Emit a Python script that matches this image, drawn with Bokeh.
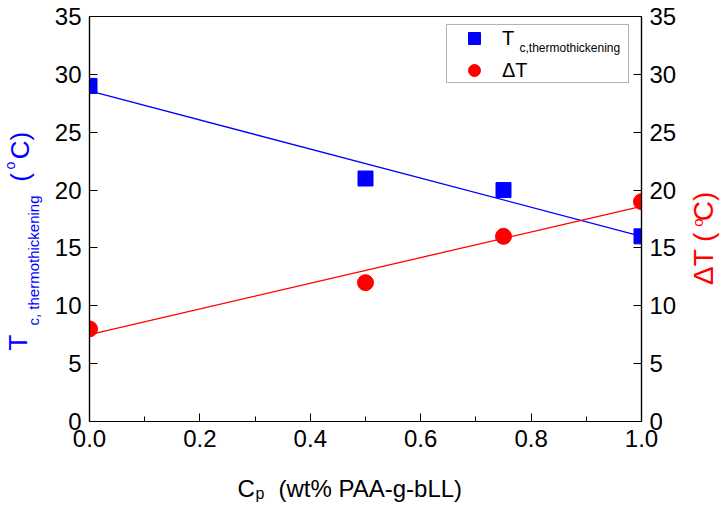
import numpy as np
from bokeh.plotting import figure
from bokeh.layouts import row, column
from bokeh.models import (LinearAxis, Range1d, Label, Legend, LegendItem,
                          FixedTicker, NumeralTickFormatter, BoxAnnotation)
from bokeh.embed import file_html
from bokeh.resources import INLINE

# data
cp = [0.0, 0.5, 0.75, 1.0]
tc_thick = [29, 21, 20, 16]
delta_t = [8, 12, 16, 19]

x_ticks = [0.0, 0.2, 0.4, 0.6, 0.8, 1.0]
x_minor = [0.1, 0.3, 0.5, 0.7, 0.9]
y_ticks = [0, 5, 10, 15, 20, 25, 30, 35]

BLUE = "#0000ff"
RED = "#ff0000"
FONT = "Liberation Sans"

# page layout (pixels): left title strip, main plot, right title strip, bottom strip
LW, RW = 48, 40
MW = 724 - LW - RW
TOP_H, BOT_H = 460, 53
FL, FR, FT, FB = 89, 641, 16, 421   # frame box on the page
XMAX, YMAX = 1.0, 35.0

p = figure(width=MW, height=TOP_H, x_range=Range1d(0, XMAX), y_range=Range1d(0, YMAX),
           output_backend="svg", toolbar_location=None,
           min_border_left=FL - LW, min_border_right=LW + MW - FR,
           min_border_top=FT, min_border_bottom=TOP_H - FB)
p.grid.grid_line_color = None
p.outline_line_color = "black"
p.outline_line_width = 1.2

p.xaxis.ticker = FixedTicker(ticks=x_ticks, minor_ticks=x_minor)
p.xaxis.formatter = NumeralTickFormatter(format="0.0")
p.yaxis.ticker = FixedTicker(ticks=y_ticks, minor_ticks=[])

right = LinearAxis(ticker=FixedTicker(ticks=y_ticks, minor_ticks=[]))
p.add_layout(right, "right")

for ax in p.axis:
    ax.axis_line_color = "black"
    ax.axis_line_width = 1.2
    ax.major_tick_in = 8
    ax.major_tick_out = 0
    ax.minor_tick_in = 5
    ax.minor_tick_out = 0
    ax.major_tick_line_color = "black"
    ax.minor_tick_line_color = "black"
    ax.major_label_text_font = FONT
    ax.major_label_text_font_size = "24px"
    ax.major_label_text_color = "black"
    ax.major_label_standoff = 8

# linear fits
ends = [cp[0], cp[-1]]
fit_b = np.polyfit(cp, tc_thick, 1)
fit_r = np.polyfit(cp, delta_t, 1)
p.line(ends, np.polyval(fit_b, ends), line_color=BLUE, line_width=1.3)
p.line(ends, np.polyval(fit_r, ends), line_color=RED, line_width=1.3)

r_sq = p.scatter(cp, tc_thick, marker="square", size=15, color=BLUE)
r_ci = p.scatter(cp, delta_t, marker="circle", size=16, color=RED)


def dx(px):
    return (px - FL) / (FR - FL) * XMAX


def dy(py):
    return (FB - py) / (FB - FT) * YMAX


# legend frame, drawn under a transparent legend
p.add_layout(BoxAnnotation(left=dx(446), right=dx(628), top=dy(24), bottom=dy(82),
                           fill_color="white", fill_alpha=1,
                           line_color="black", line_width=1))
legend = Legend(items=[LegendItem(label="T", renderers=[r_sq]),
                       LegendItem(label="ΔT", renderers=[r_ci])],
                location=(446 - FL, FB - 87), margin=0, padding=2, spacing=2,
                glyph_width=52, glyph_height=30, label_height=30,
                label_width=124, label_standoff=2,
                label_text_font=FONT, label_text_font_size="20px",
                label_text_color="black",
                border_line_alpha=0, background_fill_alpha=0)
p.add_layout(legend)
p.add_layout(Label(x=dx(519), y=dy(47), text="c,thermothickening",
                   text_font=FONT, text_font_size="12px", text_color="black",
                   text_baseline="middle", text_align="left"))


def strip(w, h, xr, yr):
    # ranges given in page pixels, so labels can be placed by page position
    f = figure(width=w, height=h, x_range=Range1d(*xr), y_range=Range1d(*yr),
               output_backend="svg", toolbar_location=None, min_border=0,
               x_axis_location=None, y_axis_location=None)
    f.grid.grid_line_color = None
    f.outline_line_color = None
    return f


# side strips share the main frame's vertical extent inside the row
left_s = strip(LW, TOP_H, (0, LW), (FB, FT))
right_s = strip(RW, TOP_H, (LW + MW, 724), (FB, FT))
bottom_s = strip(724, BOT_H, (0, 724), (513, TOP_H))


def lab(f, px, py, text, size, color="black", angle=0, align="center"):
    f.add_layout(Label(x=px, y=py, text=text,
                       text_font=FONT, text_font_size=size, text_color=color,
                       angle=angle, text_baseline="middle", text_align=align))


# x axis title
lab(bottom_s, 237, 488, "C", "24px", align="left")
lab(bottom_s, 255, 493, "p", "16px", align="left")
lab(bottom_s, 278, 488, "(wt% PAA-g-bLL)", "24px", align="left")

# left axis title (centres of each piece)
up = np.pi / 2
lab(left_s, 17, 342, "T", "26px", BLUE, up)
lab(left_s, 33, 260, "c, thermothickening", "15px", BLUE, up)
lab(left_s, 19, 177, "(", "26px", BLUE, up)
lab(left_s, 9, 165, "o", "14px", BLUE, up)
lab(left_s, 19, 145, "C)", "26px", BLUE, up)

# right axis title
lab(right_s, 703, 258, "ΔT (", "28px", RED, up)
lab(right_s, 697, 222, "o", "15px", RED, up)
lab(right_s, 703, 206, "C)", "28px", RED, up)

page = column(row(left_s, p, right_s, spacing=0), bottom_s, spacing=0)

open("out.html", "w").write(file_html(page, INLINE))
